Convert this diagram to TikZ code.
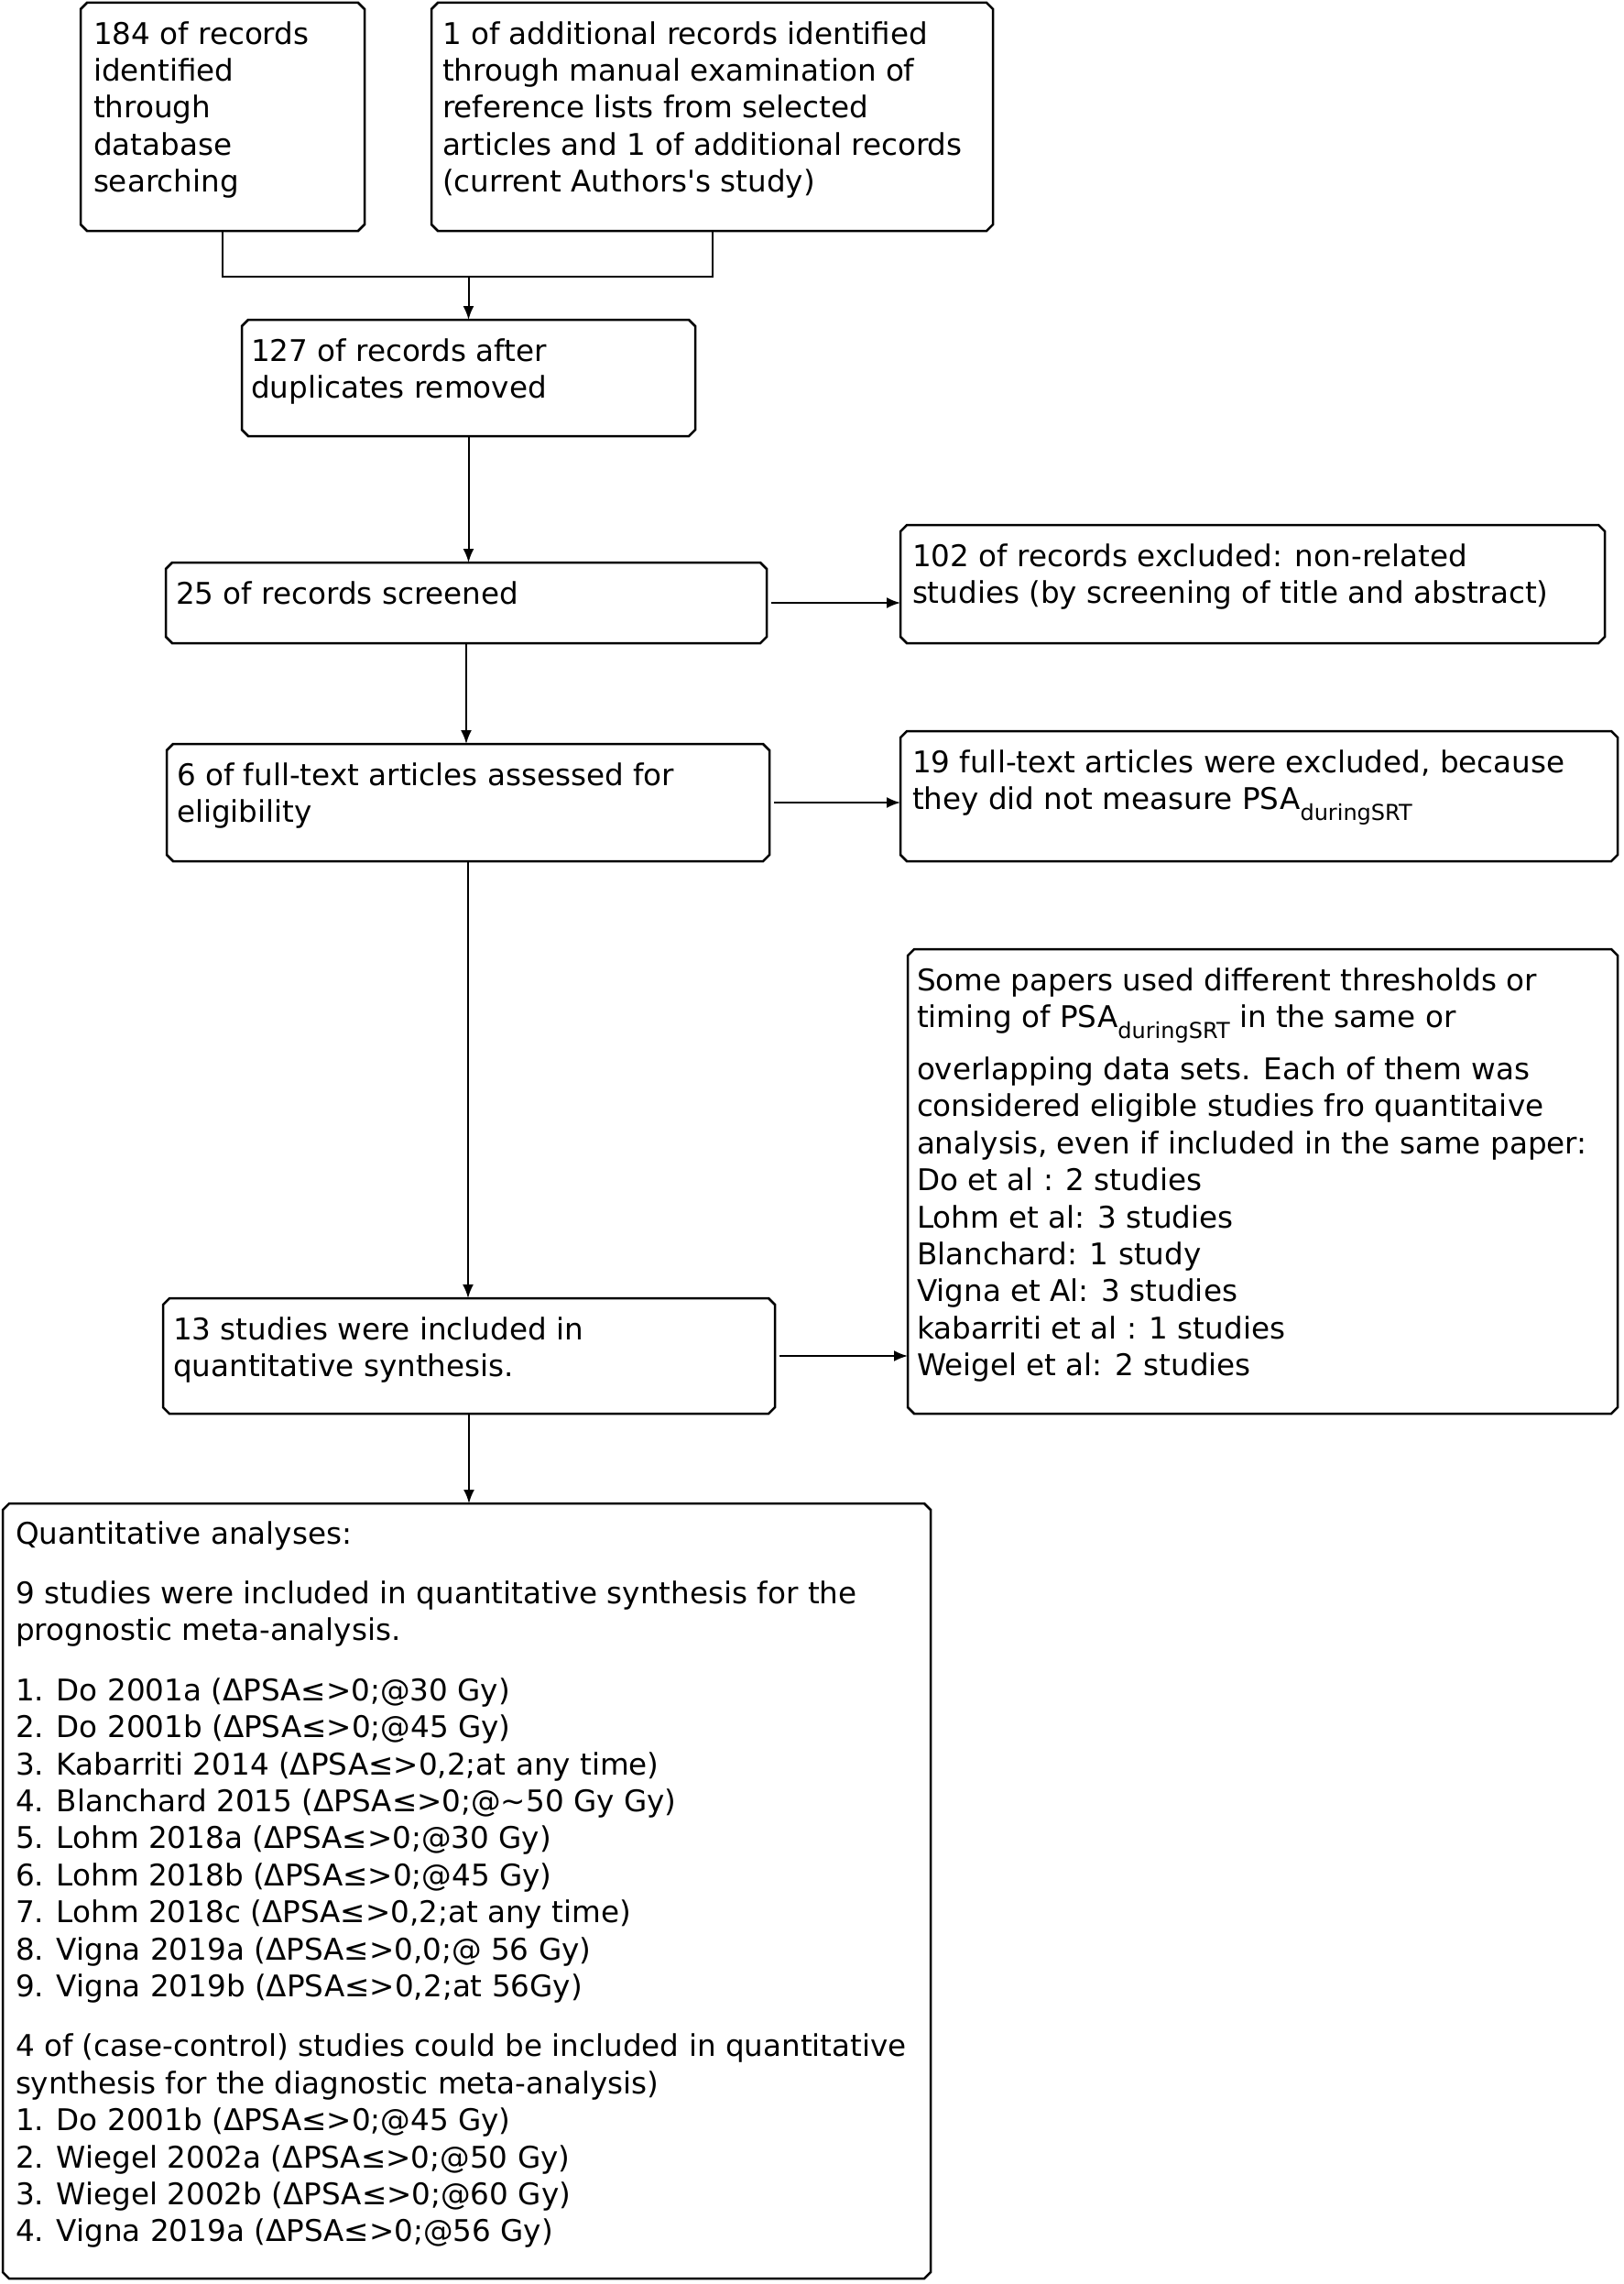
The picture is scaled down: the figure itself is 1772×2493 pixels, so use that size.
\documentclass[tikz,border=0pt]{standalone}
\usepackage{fontspec}
\setmainfont{DejaVu Sans}
\usetikzlibrary{arrows.meta,calc}
\lineskiplimit=-100pt
\newcommand\fl{\rule{0pt}{30bp}}
\newcommand\psasub{PSA\raisebox{-12bp}{\fontsize{24bp}{24bp}\selectfont duringSRT}}
\newcommand\chamf[1]{\draw[boxline] ([xshift=7bp]#1.north west) -- ([xshift=-7bp]#1.north east) -- ([yshift=-7bp]#1.north east) -- ([yshift=7bp]#1.south east) -- ([xshift=-7bp]#1.south east) -- ([xshift=7bp]#1.south west) -- ([yshift=7bp]#1.south west) -- ([yshift=-7bp]#1.north west) -- cycle;}
\tikzset{
  boxn/.style={rectangle, inner sep=0pt, outer sep=0pt, draw=none, anchor=north west},
  boxline/.style={line width=2.5bp, black, line join=miter},
  txt/.style={inner sep=0pt, outer sep=0pt, anchor=north west, align=left, font=\fontsize{32.6bp}{40.4bp}\selectfont},
  conn/.style={line width=2bp, black},
  arr/.style={conn, -{Latex[length=15bp,width=12bp]}}
}
\begin{document}
\begin{tikzpicture}[x=1bp, y=-1bp]
\useasboundingbox (0,0) rectangle (1772,2493);
% boxes
\node[boxn, minimum width=310bp, minimum height=249bp] (A) at (88,3) {};
\node[boxn, minimum width=613bp, minimum height=249bp] (B) at (471,3) {};
\node[boxn, minimum width=495bp, minimum height=127bp] (C) at (264,349) {};
\node[boxn, minimum width=656bp, minimum height=88bp] (D) at (181,614) {};
\node[boxn, minimum width=769bp, minimum height=129bp] (E) at (983,573) {};
\node[boxn, minimum width=658bp, minimum height=128bp] (F) at (182,812) {};
\node[boxn, minimum width=783bp, minimum height=142bp] (G) at (983,798) {};
\node[boxn, minimum width=668bp, minimum height=126bp] (H) at (178,1417) {};
\node[boxn, minimum width=775bp, minimum height=507bp] (I) at (991,1036) {};
\node[boxn, minimum width=1013bp, minimum height=846bp] (J) at (3,1641) {};
\chamf{A}\chamf{B}\chamf{C}\chamf{D}\chamf{E}\chamf{F}\chamf{G}\chamf{H}\chamf{I}\chamf{J}
% texts
\node[txt] (tA) at (102,18) {\fl 184 of records\\identified\\through\\database\\searching};
\node[txt] (tB) at (483,18) {\fl 1 of additional records identified\\through manual examination of\\reference lists from selected\\articles and 1 of additional records\\(current Authors\textquotesingle s study)};
\node[txt] (tC) at (274,364) {\fl 127 of records after\\duplicates removed};
\node[txt] (tD) at (192,629) {\fl 25 of records screened};
\node[txt] (tE) at (996,588) {\fl 102 of records excluded: non-related\\studies (by screening of title and abstract)};
\node[txt] (tF) at (193,827) {\fl 6 of full-text articles assessed for\\eligibility};
\node[txt] (tG) at (996,813) {\fl 19 full-text articles were excluded, because\\they did not measure \psasub};
\node[txt] (tH) at (189,1432) {\fl 13 studies were included in\\quantitative synthesis.};
\node[txt] (tI) at (1001,1051) {\fl Some papers used different thresholds or\\timing of \psasub\ in the same or\\[16.6bp]overlapping data sets. Each of them was\\considered eligible studies fro quantitaive\\analysis, even if included in the same paper:\\Do et al : 2 studies\\Lohm et al: 3 studies\\Blanchard: 1 study\\Vigna et Al: 3 studies\\kabarriti et al : 1 studies\\Weigel et al: 2 studies};
\node[txt] (tJ) at (17,1655) {\fl Quantitative analyses:\\[25bp]9 studies were included in quantitative synthesis for the\\prognostic meta-analysis.\\[25bp]1. Do 2001a (ΔPSA≤>0;@30 Gy)\\2. Do 2001b (ΔPSA≤>0;@45 Gy)\\3. Kabarriti 2014 (ΔPSA≤>0,2;at any time)\\4. Blanchard 2015 (ΔPSA≤>0;@\textasciitilde 50 Gy Gy)\\5. Lohm 2018a (ΔPSA≤>0;@30 Gy)\\6. Lohm 2018b (ΔPSA≤>0;@45 Gy)\\7. Lohm 2018c (ΔPSA≤>0,2;at any time)\\8. Vigna 2019a (ΔPSA≤>0,0;@ 56 Gy)\\9. Vigna 2019b (ΔPSA≤>0,2;at 56Gy)\\[25bp]4 of (case-control) studies could be included in quantitative\\synthesis for the diagnostic meta-analysis)\\1. Do 2001b (ΔPSA≤>0;@45 Gy)\\2. Wiegel 2002a (ΔPSA≤>0;@50 Gy)\\3. Wiegel 2002b (ΔPSA≤>0;@60 Gy)\\4. Vigna 2019a (ΔPSA≤>0;@56 Gy)};
% connectors
\coordinate (jA) at ($(A.south)+(0,50)$);
\coordinate (jB) at (B.south |- jA);
\coordinate (jC) at (C.north |- jA);
\draw[conn] (A.south) -- (jA) -- (jB) -- (B.south);
\draw[arr] (jC) -- (C.north);
\draw[arr] (C.south) -- (C.south |- D.north);
\draw[arr] (D.south) -- (D.south |- F.north);
\draw[arr] (F.south) -- (F.south |- H.north);
\draw[arr] (H.south) -- (H.south |- J.north);
\draw[arr, shorten <=5bp] (D.east) -- (D.east -| E.west);
\draw[arr, shorten <=5bp] (F.east) -- (F.east -| G.west);
\draw[arr, shorten <=5bp] (H.east) -- (H.east -| I.west);
\end{tikzpicture}
\end{document}
